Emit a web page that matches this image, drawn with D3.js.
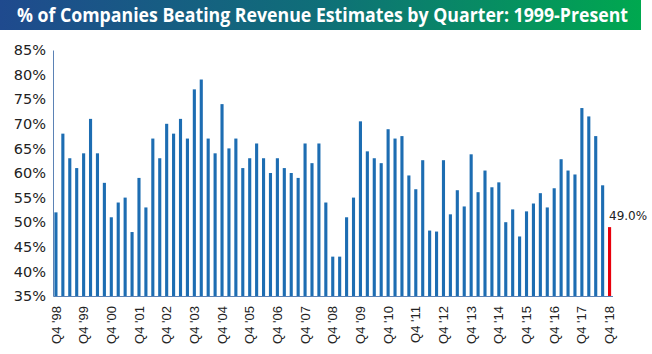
<!DOCTYPE html>
<head>
    <script src="https://d3js.org/d3.v7.min.js"></script>
    <style>
        body { margin: 0; background: #fff; }
    </style>
</head>
<body>
    <svg width="652" height="354" id="mainsvg"></svg>
<script>
    const years = ['98','99','00','01','02','03','04','05','06','07','08','09','10','11','12','13','14','15','16','17','18'];
    const values = [
        52, 68, 63, 61, 64, 71, 64, 58, 51, 54, 55, 48, 59,
        53, 67, 63, 70, 68, 71, 67, 77, 79, 67, 64, 74, 65,
        67, 61, 63, 66, 63, 60, 63, 61, 60, 59, 66, 62, 66, 54,
        43, 43, 51, 55, 70.5, 64.4, 63, 62, 68.9, 67, 67.5, 59.5, 56.7,
        62.6, 48.3, 48.1, 62.6, 51.6, 56.5, 53.2, 63.8, 56.1, 60.5, 57.1, 58.1, 50, 52.6,
        47.1, 52.2, 53.8, 55.9, 53, 56.9, 62.8, 60.5, 59.7, 73.2, 71.5, 67.5, 57.5, 49
    ];
    const quarters = [];
    years.forEach((y, i) => {
        quarters.push('Q4 \'' + y);
        if (i < years.length - 1) ['Q1', 'Q2', 'Q3'].forEach(q => quarters.push(q + ' \'' + years[i + 1]));
    });
    const yTicks = [35, 40, 45, 50, 55, 60, 65, 70, 75, 80, 85];
    const lastLabel = '49.0%';

    const svg = d3.select('#mainsvg');
    const width = +svg.attr('width');
    const height = +svg.attr('height');
    const margin = {top: 50, right: 40, bottom: 58, left: 53};
    const innerWidth = width - margin.left - margin.right;
    const innerHeight = height - margin.top - margin.bottom;

    // title bar
    const grad = svg.append('defs').append('linearGradient').attr('id', 'titlegrad');
    grad.append('stop').attr('offset', '0%').attr('stop-color', '#1f4a8e');
    grad.append('stop').attr('offset', '50%').attr('stop-color', '#0f6f78');
    grad.append('stop').attr('offset', '100%').attr('stop-color', '#00a84f');
    svg.append('rect').attr('x', 0).attr('y', 0).attr('width', 641).attr('height', 30)
        .attr('fill', 'url(#titlegrad)');
    svg.append('text').text('% of Companies Beating Revenue Estimates by Quarter: 1999-Present')
        .attr('x', 17).attr('y', 22)
        .attr('fill', '#fff')
        .attr('font-family', 'Open Sans, sans-serif')
        .attr('font-weight', 'bold')
        .attr('font-size', '19px')
        .attr('textLength', 611)
        .attr('lengthAdjust', 'spacingAndGlyphs');

    const g = svg.append('g').attr('id', 'maingroup')
        .attr('transform', `translate(${margin.left}, ${margin.top})`);

    const xScale = d3.scaleBand()
        .domain(quarters)
        .range([0, innerWidth + 0.5])
        .paddingInner(0.55)
        .paddingOuter(0.2);

    const yScale = d3.scaleLinear()
        .domain([35, 85])
        .range([innerHeight, 0]);

    g.selectAll('.bar').data(values).join('rect')
        .attr('class', 'bar')
        .attr('x', (d, i) => xScale(quarters[i]))
        .attr('width', xScale.bandwidth())
        .attr('y', d => yScale(d))
        .attr('height', d => innerHeight - yScale(d))
        .attr('fill', (d, i) => i === values.length - 1 ? '#e8000b' : '#1d6db2');

    // y axis
    const yAxis = d3.axisLeft(yScale).tickValues(yTicks).tickSize(0).tickPadding(7)
        .tickFormat(d => d + '%');
    const yg = g.append('g').call(yAxis);
    yg.select('.domain').attr('stroke', '#5b82b5');
    yg.selectAll('.tick text')
        .attr('font-family', 'DejaVu Sans, sans-serif')
        .attr('font-size', '14.5px')
        .attr('fill', '#222');

    // x axis
    const xAxis = d3.axisBottom(xScale).tickSize(0).tickPadding(0)
        .tickValues(quarters.filter(q => q.startsWith('Q4')));
    const xg = g.append('g').call(xAxis)
        .attr('transform', `translate(0, ${innerHeight})`);
    xg.select('.domain').attr('stroke', '#5b82b5');
    xg.selectAll('.tick text')
        .attr('font-family', 'Liberation Sans, Arial, sans-serif')
        .attr('font-size', '13px')
        .attr('fill', '#222')
        .attr('text-anchor', 'end')
        .attr('transform', 'rotate(-90)')
        .attr('x', -10)
        .attr('y', 0)
        .attr('dy', '0.35em');

    // last value label
    const last = quarters[quarters.length - 1];
    g.append('text').text(lastLabel)
        .attr('x', xScale(last) + 1)
        .attr('y', yScale(values[values.length - 1]) - 7)
        .attr('font-family', 'DejaVu Sans, sans-serif')
        .attr('font-size', '12px')
        .attr('fill', '#222');
</script>
</body>
</html>
